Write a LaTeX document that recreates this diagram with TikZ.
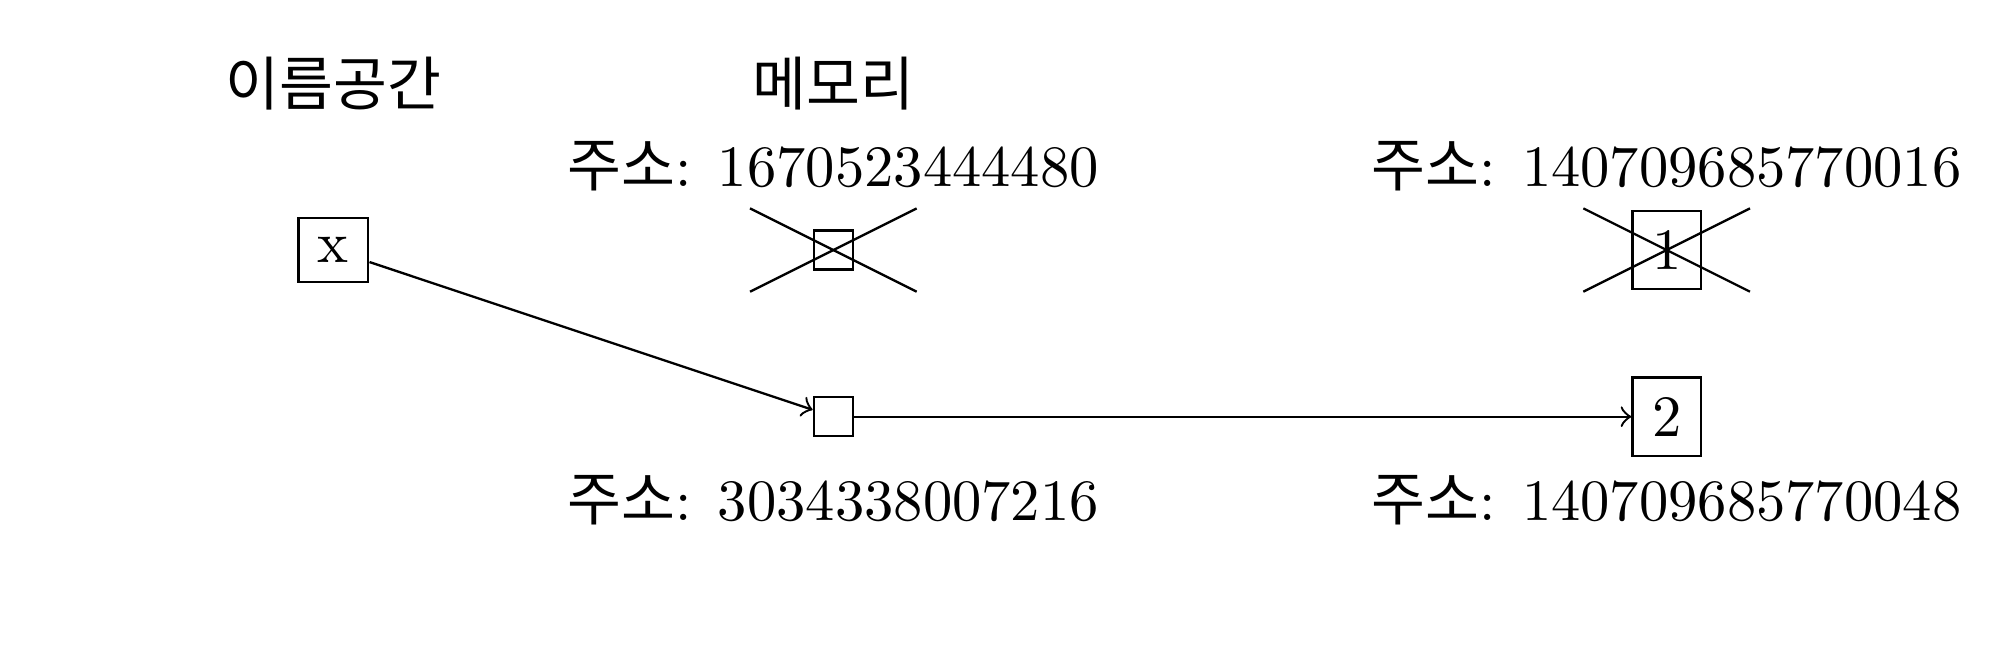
\documentclass[tikz,border=0pt]{standalone}
\usepackage{fontspec}
\newfontfamily\kr{Noto Sans CJK KR}
\begin{document}
\begin{tikzpicture}
\useasboundingbox (-2,-2.5) rectangle (10,1.5);
\tikzset{cell/.style={draw}, lbl/.style={}, cross/.style={draw}}
\node[lbl] (t1) at (0,1) {\kr 이름공간};
\node[lbl] (t2) at (3,1) {\kr 메모리};
\node[cell] (x) at (0,0) {x};
\node[cell] (m1) at (3,0) {};
\node[cell] (m2) at (3,-1) {};
\node[cell] (b1) at (8,0) {1};
\node[cell] (b2) at (8,-1) {2};
\node[lbl] (a1) at (3,0.5) {{\kr 주소}: 1670523444480};
\node[lbl] (a2) at (3,-1.5) {{\kr 주소}: 3034338007216};
\node[lbl] (a3) at (8,0.5) {{\kr 주소}: 140709685770016};
\node[lbl] (a4) at (8,-1.5) {{\kr 주소}: 140709685770048};
\draw[cross] ([shift={(-0.5,-0.25)}]m1.center) coordinate (c1a) -- ([shift={(0.5,0.25)}]m1.center) coordinate (c1b);
\draw[cross] ([shift={(-0.5,0.25)}]m1.center) coordinate (c1c) -- ([shift={(0.5,-0.25)}]m1.center) coordinate (c1d);
\draw[cross] ([shift={(-0.5,-0.25)}]b1.center) coordinate (c2a) -- ([shift={(0.5,0.25)}]b1.center) coordinate (c2b);
\draw[cross] ([shift={(-0.5,0.25)}]b1.center) coordinate (c2c) -- ([shift={(0.5,-0.25)}]b1.center) coordinate (c2d);
\draw[->] (x) -- (m2);
\draw[->] (m2) -- (b2);
\end{tikzpicture}
\end{document}
